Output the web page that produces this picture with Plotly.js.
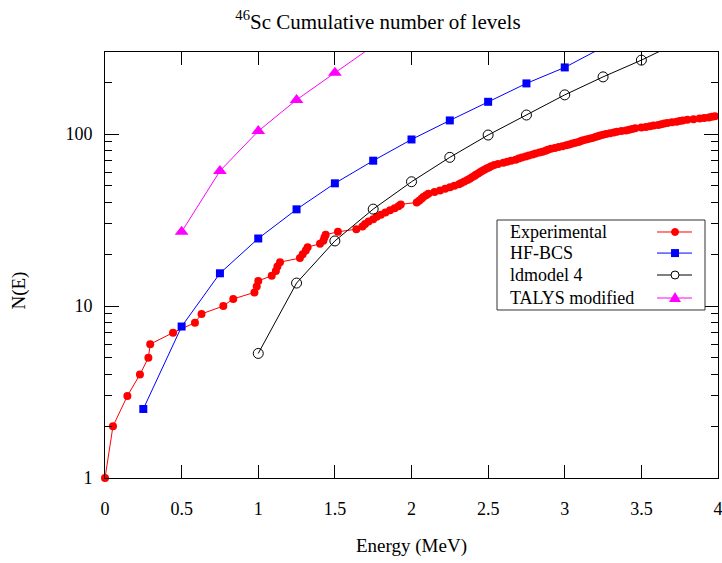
<!DOCTYPE html>
<html>
<head>
<meta charset="utf-8">
<script src="https://cdn.plot.ly/plotly-3.0.1.min.js"></script>
<style>html,body{margin:0;padding:0;background:#fff;}#chart{width:722px;height:563px;}</style>
</head>
<body>
<div id="chart"></div>
<script>
// Experimental cumulative level count (energy in MeV, N)
const expEnergy = [0, 0.052, 0.146, 0.228, 0.283, 0.295, 0.444, 0.587, 0.630, 0.772,
  0.837, 0.975, 0.990, 1.000, 1.088, 1.115, 1.125, 1.142, 1.272, 1.290,
  1.310, 1.322, 1.403, 1.425, 1.432, 1.440, 1.520, 1.640, 1.680, 1.697,
  1.720, 1.750, 1.773, 1.800, 1.830, 1.860, 1.890, 1.915, 1.930, 2.034,
  2.050, 2.065, 2.077, 2.095, 2.110, 2.150, 2.186, 2.220, 2.251, 2.280,
  2.310, 2.325, 2.345, 2.365, 2.380, 2.395, 2.410, 2.420, 2.435, 2.447,
  2.460, 2.475, 2.490, 2.505, 2.520, 2.540, 2.565, 2.600, 2.625, 2.650,
  2.680, 2.700, 2.720, 2.745, 2.765, 2.790, 2.810, 2.835, 2.855, 2.875,
  2.890, 2.910, 2.935, 2.960, 2.985, 3.010, 3.030, 3.050, 3.070, 3.090,
  3.105, 3.120, 3.140, 3.160, 3.180, 3.200, 3.215, 3.230, 3.250, 3.270,
  3.295, 3.320, 3.340, 3.370, 3.400, 3.420, 3.440, 3.460, 3.500, 3.530,
  3.556, 3.580, 3.610, 3.630, 3.650, 3.670, 3.700, 3.730, 3.750, 3.770,
  3.800, 3.840, 3.880, 3.910, 3.940, 3.960, 3.980];
const expN = [1, 2, 3, 4, 5, 6, 7, 8, 9, 10,
  11, 12, 13, 14, 15, 16, 17, 18, 19, 20,
  21, 22, 23, 24, 25, 26, 27, 28, 29, 30,
  31, 32, 33, 34, 35, 36, 37, 38, 39, 40,
  41, 42, 43, 44, 45, 46, 47, 48, 49, 50,
  51, 52, 53, 54, 55, 56, 57, 58, 59, 60,
  61, 62, 63, 64, 65, 66, 67, 68, 69, 70,
  71, 72, 73, 74, 75, 76, 77, 78, 79, 80,
  81, 82, 83, 84, 85, 86, 87, 88, 89, 90,
  91, 92, 93, 94, 95, 96, 97, 98, 99, 100,
  101, 102, 103, 104, 105, 106, 107, 108, 109, 110,
  111, 112, 113, 114, 115, 116, 117, 118, 119, 120,
  121, 122, 123, 124, 125, 126, 127];

// HF-BCS
const hfEnergy = [0.25, 0.5, 0.75, 1.0, 1.25, 1.5, 1.75, 2.0, 2.25, 2.5, 2.75, 3.0, 3.25];
const hfN = [2.52, 7.6, 15.5, 24.7, 36.5, 51.7, 70, 93, 120, 154, 197, 244, 320];

// ldmodel 4
const ldEnergy = [1.0, 1.25, 1.5, 1.75, 2.0, 2.25, 2.5, 2.75, 3.0, 3.25, 3.5, 3.75];
const ldN = [5.3, 13.6, 23.9, 36.6, 52.8, 73.2, 98.7, 129, 169, 215, 269, 345];

// TALYS modified
const talysEnergy = [0.5, 0.75, 1.0, 1.25, 1.5, 1.75];
const talysN = [27, 61, 104, 158, 227, 325];

const seriesNames = ['Experimental', 'HF-BCS', 'ldmodel 4', 'TALYS modified'];
const xTickVals = [0, 0.5, 1, 1.5, 2, 2.5, 3, 3.5, 4];
const xTickText = ['0', '0.5', '1', '1.5', '2', '2.5', '3', '3.5', '4'];
const yTickVals = [1, 10, 100];
const yTickText = ['1', '10', '100'];
const yMinorVals = [2,3,4,5,6,7,8,9,20,30,40,50,60,70,80,90,200,300];

const FONT = '"Liberation Serif", "Times New Roman", serif';

const traces = [
  {x: expEnergy, y: expN, name: seriesNames[0], mode: 'lines+markers', cliponaxis: false,
   line: {color: '#ff0000', width: 1}, marker: {color: '#ff0000', symbol: 'circle', size: 8}},
  {x: hfEnergy, y: hfN, name: seriesNames[1], mode: 'lines+markers',
   line: {color: '#0000ff', width: 1}, marker: {color: '#0000ff', symbol: 'square', size: 8}},
  {x: ldEnergy, y: ldN, name: seriesNames[2], mode: 'lines+markers',
   line: {color: '#000000', width: 1}, marker: {color: '#000000', symbol: 'circle-open', size: 10, line: {width: 1, color: '#000000'}}},
  {x: talysEnergy, y: talysN, name: seriesNames[3], mode: 'lines+markers',
   line: {color: '#ff00ff', width: 1}, marker: {color: '#ff00ff', symbol: 'triangle-up', size: 12}}
];

// manual legend (text left, sample on the right)
const legRowsY = [0.5775, 0.528, 0.4765, 0.4225];
const legColors = ['#ff0000', '#0000ff', '#000000', '#ff00ff'];
const legTextX = 0.6574, legLine0 = 0.9005, legLine1 = 0.9576, legMark = 0.9299;
const shapes = [
  {type: 'rect', xref: 'paper', yref: 'paper', x0: 0.6395, x1: 0.9788, y0: 0.3944, y1: 0.6056,
   line: {color: '#333', width: 1}, fillcolor: '#ffffff', layer: 'above'}
];
const annotations = [];
legRowsY.forEach((yy, i) => {
  annotations.push({xref: 'paper', yref: 'paper', x: legTextX, y: yy, xanchor: 'left', yanchor: 'middle',
    text: seriesNames[i], showarrow: false, font: {family: FONT, size: 18, color: '#000'}});
  shapes.push({type: 'line', xref: 'paper', yref: 'paper', x0: legLine0, x1: legLine1, y0: yy, y1: yy,
    line: {color: legColors[i], width: 1}, layer: 'above'});
});
// legend markers
shapes.push({type: 'circle', xref: 'paper', yref: 'paper', xsizemode: 'pixel', ysizemode: 'pixel',
  xanchor: legMark, yanchor: legRowsY[0], x0: -3.5, x1: 3.5, y0: -3.5, y1: 3.5,
  fillcolor: '#ff0000', line: {color: '#ff0000', width: 1}, layer: 'above'});
shapes.push({type: 'rect', xref: 'paper', yref: 'paper', xsizemode: 'pixel', ysizemode: 'pixel',
  xanchor: legMark, yanchor: legRowsY[1], x0: -4, x1: 4, y0: -4, y1: 4,
  fillcolor: '#0000ff', line: {color: '#0000ff', width: 0}, layer: 'above'});
shapes.push({type: 'circle', xref: 'paper', yref: 'paper', xsizemode: 'pixel', ysizemode: 'pixel',
  xanchor: legMark, yanchor: legRowsY[2], x0: -4, x1: 4, y0: -4, y1: 4,
  fillcolor: '#ffffff', line: {color: '#000000', width: 1}, layer: 'above'});
shapes.push({type: 'path', xref: 'paper', yref: 'paper', xsizemode: 'pixel', ysizemode: 'pixel',
  xanchor: legMark, yanchor: legRowsY[3], path: 'M-6,-4 L6,-4 L0,6 Z',
  fillcolor: '#ff00ff', line: {color: '#ff00ff', width: 0}, layer: 'above'});

// y-axis title
annotations.push({xref: 'paper', yref: 'paper', x: -0.1403, y: 0.44, xanchor: 'center', yanchor: 'middle',
  text: 'N(E)', textangle: -90, showarrow: false, font: {family: FONT, size: 19, color: '#000'}});

const layout = {
  width: 722, height: 563,
  margin: {l: 105, r: 4, t: 52, b: 85},
  paper_bgcolor: '#ffffff', plot_bgcolor: '#ffffff',
  showlegend: false,
  font: {family: FONT, size: 18, color: '#000'},
  title: {text: '<sup>46</sup>Sc Cumulative number of levels', font: {family: FONT, size: 21, color: '#000'},
    xref: 'container', yref: 'container', x: 0.5235, xanchor: 'center', y: 0.962, yanchor: 'middle'},
  xaxis: {
    range: [0, 4], tickmode: 'array', tickvals: xTickVals, ticktext: xTickText,
    ticks: 'inside', ticklen: 13, tickwidth: 1, tickcolor: '#000',
    showline: true, linecolor: '#000', linewidth: 1, mirror: 'ticks',
    showgrid: false, zeroline: false, ticklabelstandoff: 14, ticklabeloverflow: 'allow',
    tickfont: {family: FONT, size: 18, color: '#000'},
    title: {text: 'Energy (MeV)', font: {family: FONT, size: 19, color: '#000'}, standoff: 21}
  },
  yaxis: {
    type: 'log', range: [0, Math.log10(300)], tickmode: 'array', tickvals: yTickVals, ticktext: yTickText,
    ticks: 'inside', ticklen: 14, tickwidth: 1, tickcolor: '#000',
    showline: true, linecolor: '#000', linewidth: 1, mirror: 'ticks',
    showgrid: false, zeroline: false, ticklabelstandoff: 8,
    tickfont: {family: FONT, size: 18, color: '#000'},
    minor: {tickmode: 'array', tickvals: yMinorVals, ticks: 'inside', ticklen: 7, tickwidth: 1, tickcolor: '#000', showgrid: false}
  },
  shapes: shapes,
  annotations: annotations
};

Plotly.newPlot('chart', traces, layout, {displayModeBar: false, staticPlot: true});
</script>
</body>
</html>
